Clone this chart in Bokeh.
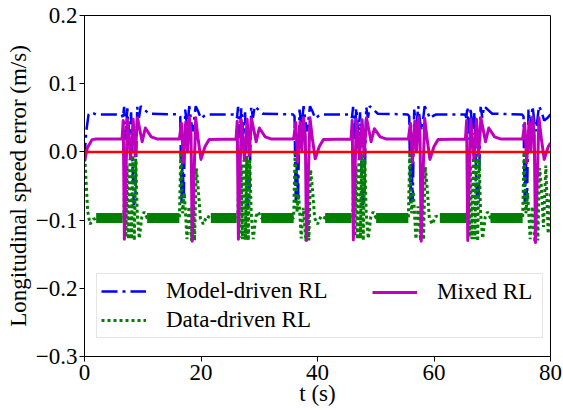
from bokeh.plotting import figure
from bokeh.models import Range1d, FixedTicker, Legend, LegendItem
from bokeh.embed import file_html
from bokeh.resources import INLINE

# ---------------- data ----------------
x_ticks = [0, 20, 40, 60, 80]
y_ticks = [-0.3, -0.2, -0.1, 0.0, 0.1, 0.2]
y_tick_labels = ["\u22120.3", "\u22120.2", "\u22120.1", "0.0", "0.1", "0.2"]

# Model-driven RL (blue, dash-dot)
time_model = [
    0.0, 0.3, 0.7, 1.1, 2.0,
    6.40, 6.60, 6.80, 7.05, 7.35, 7.70, 8.00, 8.45, 8.75, 9.05, 9.35, 9.65, 11.05,
    16.19, 16.44, 16.64, 16.84, 17.04, 17.29, 17.64, 17.99, 18.29, 18.59, 19.09, 19.49, 19.99, 20.59, 21.09,
    25.97, 26.17, 26.37, 26.62, 26.92, 27.27, 27.57, 28.02, 28.32, 28.62, 28.92, 29.22, 30.62,
    35.81, 36.06, 36.26, 36.46, 36.66, 36.91, 37.26, 37.61, 37.91, 38.21, 38.71, 39.11, 39.61, 40.21, 40.71,
    45.71, 45.91, 46.11, 46.36, 46.66, 47.01, 47.31, 47.76, 48.06, 48.36, 48.66, 48.96, 50.36,
    55.50, 55.75, 55.95, 56.15, 56.35, 56.60, 56.95, 57.30, 57.60, 57.90, 58.40, 58.80, 59.30, 59.90, 60.40,
    65.35, 65.55, 65.75, 66.00, 66.30, 66.65, 66.95, 67.40, 67.70, 68.00, 68.30, 68.60, 70.00,
    75.12, 75.37, 75.57, 75.77, 75.97, 76.22, 76.57, 76.92, 77.22, 77.52, 78.02, 78.42, 78.92, 79.52, 80.00,
]
err_model = [
    -0.010, 0.030, 0.055, 0.058, 0.055,
    0.055, 0.050, 0.066, 0.018, 0.064, 0.025, 0.058, -0.078, -0.060, 0.066, 0.050, 0.067, 0.056,
    0.055, 0.052, -0.075, -0.010, -0.070, 0.062, 0.035, 0.067, 0.045, 0.030, 0.067, 0.060, 0.049, 0.053, 0.055,
    0.055, 0.050, 0.066, 0.020, 0.064, 0.026, 0.058, -0.080, -0.060, 0.066, 0.050, 0.067, 0.056,
    0.055, 0.052, -0.073, -0.012, -0.072, 0.062, 0.036, 0.067, 0.046, 0.030, 0.067, 0.060, 0.049, 0.053, 0.055,
    0.055, 0.050, 0.066, 0.019, 0.064, 0.024, 0.058, -0.079, -0.062, 0.066, 0.050, 0.067, 0.056,
    0.055, 0.052, -0.074, -0.010, -0.072, 0.062, 0.035, 0.067, 0.045, 0.031, 0.067, 0.060, 0.049, 0.053, 0.055,
    0.055, 0.050, 0.066, 0.018, 0.064, 0.025, 0.058, -0.078, -0.061, 0.066, 0.050, 0.067, 0.056,
    0.055, 0.052, -0.075, -0.010, -0.071, 0.062, 0.035, 0.067, 0.045, 0.030, 0.067, 0.060, 0.046, 0.050, 0.055,
]

# Data-driven RL (green, dotted)
time_data = [
    0.0, 0.55, 0.95, 1.5, 2.0,
    6.55, 6.75, 6.90, 7.10, 7.30, 7.55, 7.80, 8.05, 8.30, 8.55, 8.80, 9.05, 9.40, 9.85, 10.25, 10.75,
    16.29, 16.54, 16.84, 17.14, 17.59, 17.94, 18.19, 18.39, 18.64, 18.89, 19.19, 19.49, 19.89, 20.39, 20.99, 21.69,
    26.12, 26.32, 26.47, 26.67, 26.87, 27.12, 27.37, 27.62, 27.87, 28.12, 28.37, 28.62, 28.97, 29.42, 29.82, 30.32,
    35.91, 36.16, 36.46, 36.76, 37.21, 37.56, 37.81, 38.01, 38.26, 38.51, 38.81, 39.11, 39.51, 40.01, 40.61, 41.31,
    45.86, 46.06, 46.21, 46.41, 46.61, 46.86, 47.11, 47.36, 47.61, 47.86, 48.11, 48.36, 48.71, 49.16, 49.56, 50.06,
    55.60, 55.85, 56.15, 56.45, 56.90, 57.25, 57.50, 57.70, 57.95, 58.20, 58.50, 58.80, 59.20, 59.70, 60.30, 61.00,
    65.50, 65.70, 65.85, 66.05, 66.25, 66.50, 66.75, 67.00, 67.25, 67.50, 67.75, 68.00, 68.35, 68.80, 69.20, 69.70,
    75.22, 75.47, 75.77, 76.07, 76.52, 76.87, 77.12, 77.32, 77.57, 77.82, 78.12, 78.42, 78.80, 79.20, 79.60, 80.00,
]
err_data = [
    0.000, -0.087, -0.106, -0.099, -0.097,
    -0.097, -0.097, -0.030, -0.125, -0.020, -0.128, -0.010, -0.128, -0.005, -0.130, -0.010, -0.090, -0.127, -0.095, -0.088, -0.097,
    -0.097, 0.000, -0.090, -0.060, -0.128, -0.080, -0.110, -0.130, -0.040, -0.130, -0.024, -0.050, -0.097, -0.106, -0.094, -0.097,
    -0.097, -0.097, -0.032, -0.126, -0.018, -0.128, -0.012, -0.129, -0.006, -0.130, -0.012, -0.090, -0.128, -0.095, -0.088, -0.097,
    -0.097, 0.002, -0.088, -0.062, -0.127, -0.082, -0.108, -0.131, -0.038, -0.130, -0.026, -0.052, -0.097, -0.106, -0.094, -0.097,
    -0.097, -0.097, -0.028, -0.124, -0.020, -0.128, -0.010, -0.127, -0.004, -0.130, -0.010, -0.090, -0.127, -0.095, -0.088, -0.097,
    -0.097, 0.000, -0.090, -0.058, -0.128, -0.080, -0.110, -0.130, -0.042, -0.129, -0.022, -0.050, -0.097, -0.106, -0.094, -0.097,
    -0.097, -0.097, -0.030, -0.125, -0.020, -0.128, -0.008, -0.128, -0.005, -0.131, -0.010, -0.090, -0.127, -0.095, -0.088, -0.097,
    -0.097, 0.000, -0.090, -0.060, -0.128, -0.080, -0.110, -0.132, -0.040, -0.130, -0.024, -0.050, -0.110, -0.020, -0.120, -0.060,
]
# steady noisy band of the data-driven curve
green_band_start = [2.0, 10.75, 21.69, 30.32, 41.31, 50.06, 61.00, 69.70]
green_band_end = [6.55, 16.29, 26.12, 35.91, 45.86, 55.60, 65.50, 75.22]
green_band_level = [-0.097] * 8

# Mixed RL (magenta, solid)
time_mixed = [
    0.0, 0.5, 1.3, 2.0,
    6.45, 6.65, 6.85, 7.35, 7.90, 8.35, 8.70, 9.10, 9.90, 10.45, 11.45, 12.45,
    16.29, 16.64, 16.99, 17.39, 17.69, 17.99, 18.29, 18.49, 19.09, 19.49, 19.99, 20.69, 21.39,
    26.02, 26.22, 26.42, 26.92, 27.47, 27.92, 28.27, 28.67, 29.47, 30.02, 31.02, 32.02,
    35.91, 36.26, 36.61, 37.01, 37.31, 37.61, 37.91, 38.11, 38.71, 39.11, 39.61, 40.31, 41.01,
    45.76, 45.96, 46.16, 46.66, 47.21, 47.66, 48.01, 48.41, 49.21, 49.76, 50.76, 51.76,
    55.60, 55.95, 56.30, 56.70, 57.00, 57.30, 57.60, 57.80, 58.40, 58.80, 59.30, 60.00, 60.70,
    65.40, 65.60, 65.80, 66.30, 66.85, 67.30, 67.65, 68.05, 68.85, 69.40, 70.40, 71.40,
    75.22, 75.57, 75.92, 76.32, 76.62, 76.92, 77.22, 77.42, 78.02, 78.42, 78.92, 79.62, 80.00,
]
err_mixed = [
    -0.014, 0.006, 0.018, 0.019,
    0.019, 0.046, -0.128, 0.048, -0.010, 0.048, -0.006, 0.050, 0.015, 0.035, 0.022, 0.019,
    0.019, 0.042, -0.016, 0.044, 0.000, 0.051, 0.025, -0.131, 0.050, 0.020, -0.011, 0.008, 0.018,
    0.019, 0.045, -0.128, 0.047, -0.012, 0.048, -0.006, 0.049, 0.015, 0.035, 0.022, 0.019,
    0.019, 0.043, -0.015, 0.044, 0.001, 0.050, 0.024, -0.130, 0.050, 0.020, -0.010, 0.008, 0.018,
    0.019, 0.046, -0.129, 0.048, -0.010, 0.047, -0.007, 0.050, 0.015, 0.034, 0.022, 0.019,
    0.019, 0.042, -0.016, 0.045, 0.000, 0.051, 0.025, -0.131, 0.049, 0.020, -0.011, 0.008, 0.018,
    0.019, 0.046, -0.130, 0.048, -0.010, 0.048, -0.006, 0.050, 0.015, 0.035, 0.022, 0.019,
    0.019, 0.042, -0.016, 0.044, 0.000, 0.051, 0.025, -0.133, 0.050, 0.020, -0.011, 0.008, 0.013,
]

# reference (zero error)
ref_time = [0, 80]
ref_err = [0.0, 0.0]

SERIF = "'Liberation Serif', 'Times New Roman', serif"
FS = "23px"

# ---------------- figure ----------------
p = figure(width=563, height=410, output_backend="svg", toolbar_location=None,
           x_range=Range1d(0, 80), y_range=Range1d(-0.3, 0.2),
           min_border_left=84, min_border_right=13, min_border_top=15, min_border_bottom=54)
p.background_fill_color = "white"
p.border_fill_color = "white"
p.grid.visible = False
p.outline_line_color = "black"
p.outline_line_width = 1
p.outline_line_alpha = 1

r_model = p.line(time_model, err_model, line_color="#0000ff", line_width=2.5,
                 line_dash="16 5 3 5")
p.segment(x0=green_band_start, y0=green_band_level, x1=green_band_end, y1=green_band_level,
          line_color="#008000", line_width=10)
r_data = p.line(time_data, err_data, line_color="#008000", line_width=3, line_dash="3 3")
r_mixed = p.line(time_mixed, err_mixed, line_color="#bf00bf", line_width=3, line_join="round")
p.line(ref_time, ref_err, line_color="#ff0000", line_width=2.5)

# axes
for ax in (p.xaxis[0], p.yaxis[0]):
    ax.axis_line_color = "black"
    ax.major_tick_line_color = "black"
    ax.major_tick_out = 5
    ax.major_tick_in = 0
    ax.minor_tick_out = 0
    ax.minor_tick_in = 0
    ax.major_label_text_font = SERIF
    ax.major_label_text_font_size = FS
    ax.major_label_text_color = "black"
    ax.axis_label_text_font = SERIF
    ax.axis_label_text_font_size = FS
    ax.axis_label_text_font_style = "normal"
    ax.axis_label_text_color = "black"

p.xaxis.major_label_standoff = 3
p.yaxis.major_label_standoff = 2
p.xaxis.ticker = FixedTicker(ticks=x_ticks)
p.yaxis.ticker = FixedTicker(ticks=y_ticks)
p.yaxis.major_label_overrides = dict(zip(y_ticks, y_tick_labels))
p.xaxis.axis_label = "t (s)"
p.yaxis.axis_label = "Longitudinal speed error (m/s)"
p.xaxis.axis_label_standoff = -2
p.yaxis.axis_label_standoff = 2

# legend: box with two entries in the first column, third entry in a second column
common = dict(label_text_font=SERIF, label_text_font_size=FS, label_text_color="black",
              glyph_width=45, glyph_height=20, label_standoff=20, padding=4, spacing=3,
              margin=0)
leg1 = Legend(items=[LegendItem(label="Model-driven RL", renderers=[r_model]),
                     LegendItem(label="Data-driven RL", renderers=[r_data])],
              location=(12, 18), border_line_color="#cccccc", border_line_width=1,
              background_fill_color="white", background_fill_alpha=0.8,
              label_width=372, **common)
leg2 = Legend(items=[LegendItem(label="Mixed RL", renderers=[r_mixed])],
              location=(284, 47), border_line_alpha=0, background_fill_alpha=0,
              **common)
p.add_layout(leg1)
p.add_layout(leg2)

open("out.html", "w").write(file_html(p, INLINE))
